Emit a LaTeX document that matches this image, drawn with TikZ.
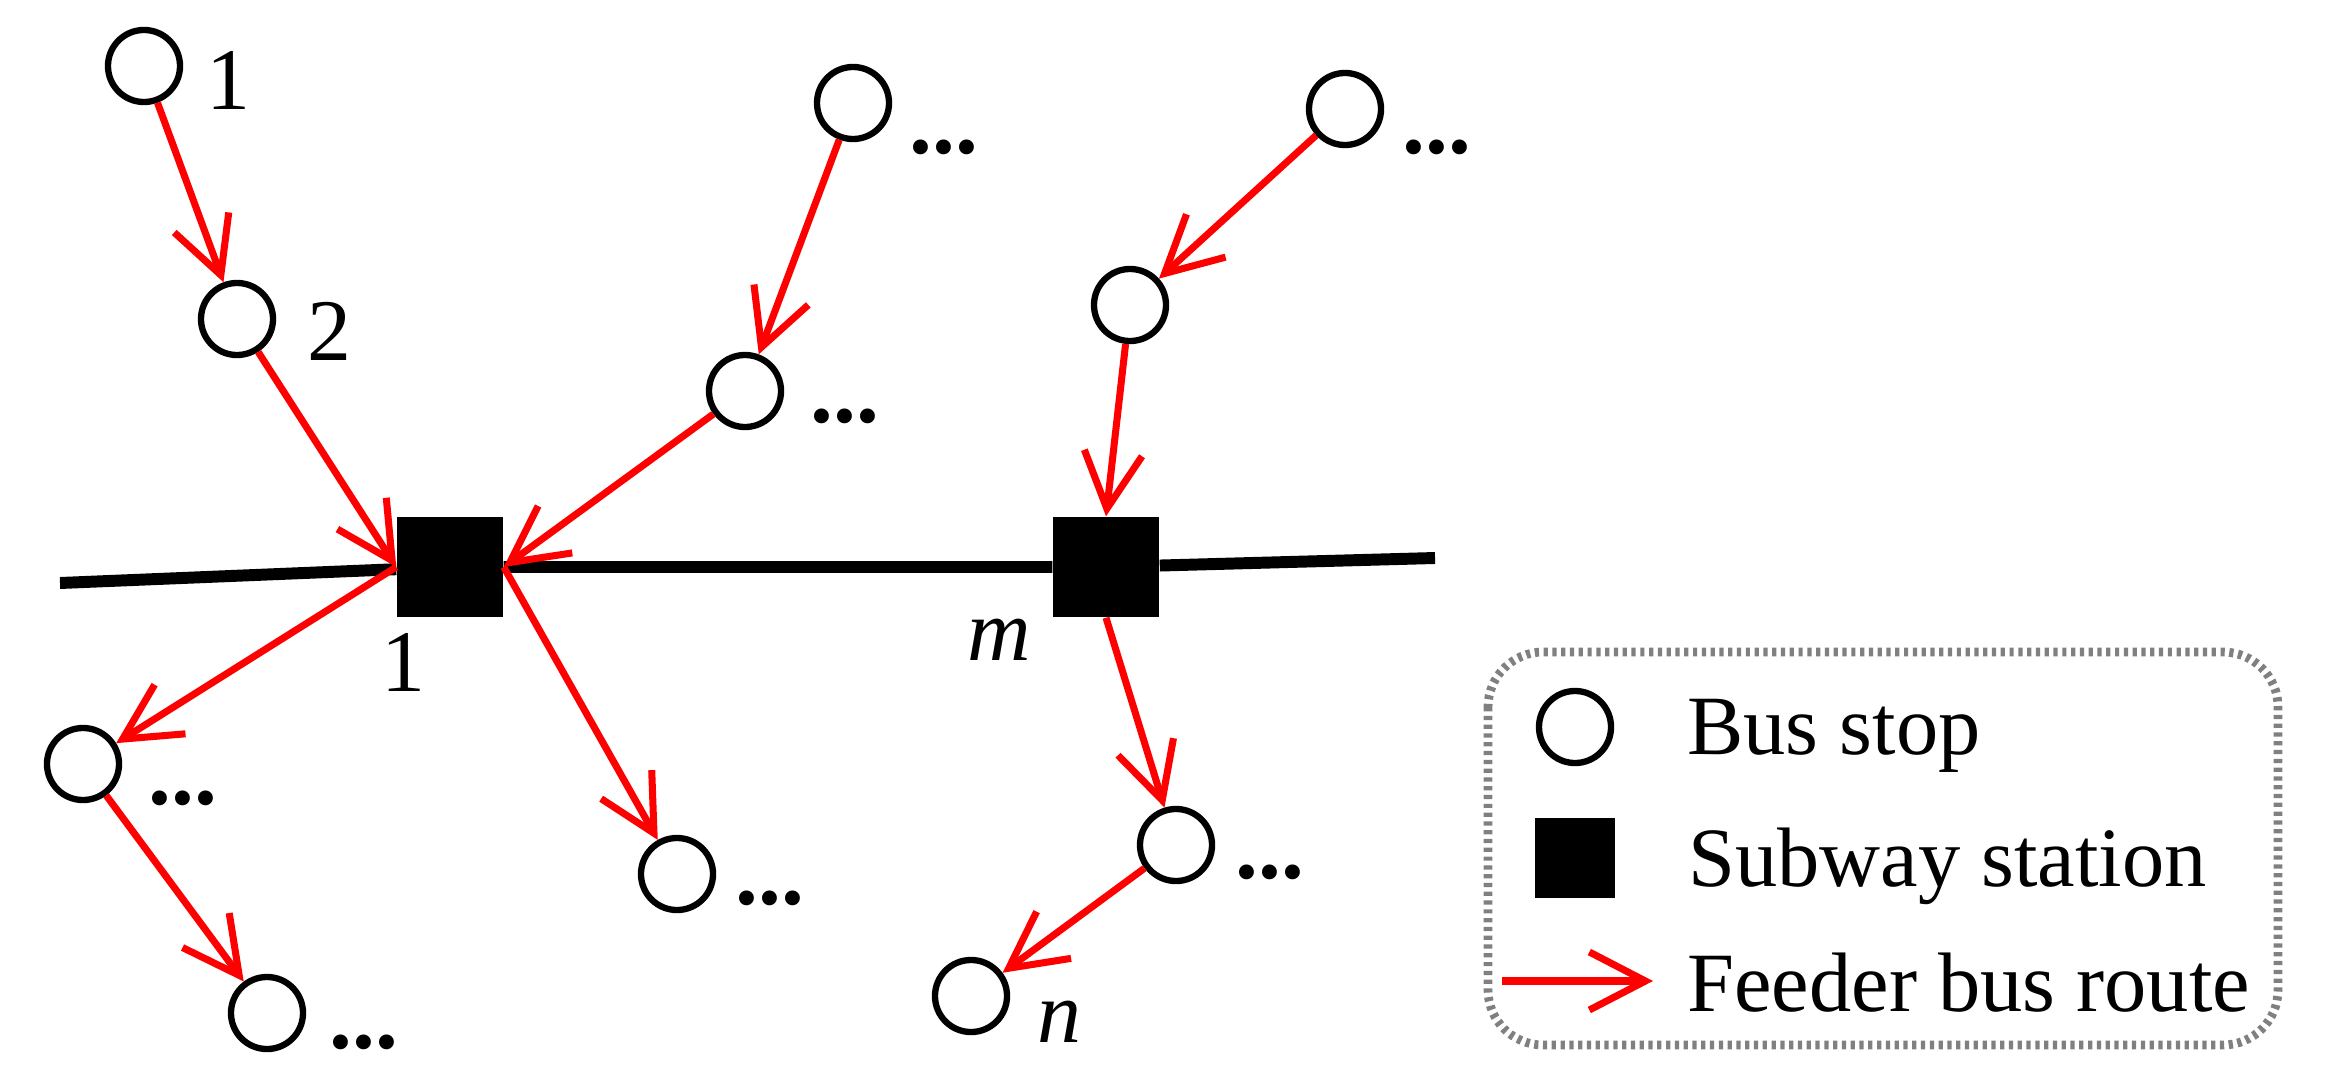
\documentclass[tikz,border=0pt]{standalone}
\usepackage{fontspec}
\setmainfont{Liberation Serif}
\usetikzlibrary{arrows.meta}

\begin{document}
\begin{tikzpicture}[x=0.01cm,y=-0.01cm,
  busstop/.style={draw=black,circle,line width=1.8pt,minimum size=0.72cm,inner sep=0pt},
  station/.style={fill=black,rectangle,minimum width=1.06cm,minimum height=1cm,inner sep=0pt},
  feeder/.style={red,line width=2pt,-{Straight Barb[length=5.6mm,width=5.8mm]}},
  rail/.style={black,line width=3.4pt},
  lbl/.style={anchor=base west,font=\fontsize{25}{30}\selectfont},
  legtext/.style={anchor=base west,font=\fontsize{24}{29}\selectfont},
  etc/.style={anchor=base west,font=\fontsize{26}{30}\selectfont\bfseries}]
\useasboundingbox (0,0) rectangle (2328,1091);

% subway stations and the line
\node[station] (st1) at (450,567) {};
\node[station] (stm) at (1106,567) {};
\coordinate (railL) at (60,583);
\coordinate (railR) at (1435,558);
\draw[rail] (railL) -- (st1) -- (stm) -- (railR);

% bus stops
\node[busstop] (s1) at (144,66) {};
\node[busstop] (s2) at (237,319) {};
\node[busstop] (sA) at (853,103) {};
\node[busstop] (sB) at (745,391) {};
\node[busstop] (sC) at (1345,109) {};
\node[busstop] (sD) at (1130,305) {};
\node[busstop] (sE) at (83,764) {};
\node[busstop] (sF) at (267,1013) {};
\node[busstop] (sG) at (677,874) {};
\node[busstop] (sH) at (1176,845) {};
\node[busstop] (sN) at (971,996) {};

% feeder routes
\foreach \a/\b in {s1/s2,s2/st1.west,sA/sB,sB/st1.east,st1.west/sE,sE/sF,
                   st1.east/sG,sC/sD,sD/stm.north,stm.south/sH,sH/sN}
	\draw[feeder] (\a) -- (\b);

% labels
\node[lbl] (l1) at (194,110) {1};
\node[lbl] (l2) at (295,360) {2};
\node[lbl] (lst1) at (369,691) {1};
\node[lbl] (lstm) at (955,660) {\itshape m};
\node[lbl] (ln) at (1025,1042) {\itshape n};
\foreach \i/\x/\y in {A/897/154,B/798/422,C/1390/154,E/136/804,F/317/1048,G/723/904,H/1223/878}
	\node[etc] (d\i) at (\x,\y) {...};

% legend
\draw[gray,line width=2.5pt,dash pattern=on 1.2pt off 1.3pt,rounded corners=0.55cm] (1488,652) rectangle (2278,1045);
\node[busstop] (lgStop) at (1575,727) {};
\node[station,minimum width=0.8cm,minimum height=0.8cm] (lgStation) at (1575,858) {};
\coordinate (lgA) at (1502,981);
\coordinate (lgB) at (1653,981);
\draw[feeder] (lgA) -- (lgB);
\node[legtext] (tStop) at (1675,754) {Bus stop};
\node[legtext] (tStation) at (1676,886) {Subway station};
\node[legtext] (tRoute) at (1675,1011) {Feeder bus route};
\end{tikzpicture}
\end{document}
